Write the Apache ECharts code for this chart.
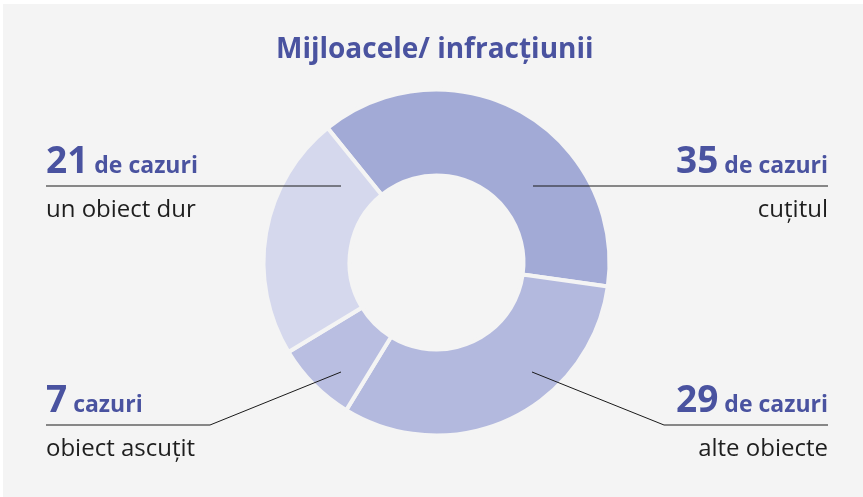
<!DOCTYPE html>
<html>
<head>
<meta charset="utf-8">
<script src="https://cdn.jsdelivr.net/npm/echarts@6/dist/echarts.min.js"></script>
<style>
  html, body { margin: 0; padding: 0; background: #fff; }
  #chart { width: 863px; height: 497px; }
</style>
</head>
<body>
<div id="chart"></div>
<script>
// date din grafic
const categorii = ['cuțitul', 'alte obiecte', 'obiect ascuțit', 'un obiect dur'];
const valori = [35, 29, 7, 21];
const unitati = ['de cazuri', 'de cazuri', 'cazuri', 'de cazuri'];
const culori = ['#a2aad6', '#b3b9de', '#b9bee1', '#d5d8ed'];

// pozitia liniilor de eticheta (start in felie, cot, capat)
const linii = [
  [[533, 186], [533, 186], [828, 186]],
  [[532, 372], [664, 425], [828, 425]],
  [[341, 372], [210, 425], [46, 425]],
  [[341, 186], [341, 186], [46, 186]]
];

const centru = [436.5, 262.5];
const raza = [87, 173];
const unghiStart = 129;

const chart = echarts.init(document.getElementById('chart'));

const dateFelii = categorii.map(function (c, i) {
  return { name: c, value: valori[i], itemStyle: { color: culori[i] } };
});
const dateEtichete = categorii.map(function (c, i) {
  return { name: c, value: valori[i] };
});

const option = {
  backgroundColor: '#ffffff',
  graphic: [{
    type: 'rect',
    z: -10,
    shape: { x: 3, y: 4, width: 860, height: 493 },
    style: { fill: '#f4f4f4' }
  }],
  title: {
    text: 'Mijloacele/ infracțiunii',
    left: 271,
    top: 31,
    textStyle: {
      fontFamily: 'Open Sans',
      fontWeight: 'bold',
      fontSize: 28,
      color: '#4a53a0'
    }
  },
  series: [{
    // inelul
    type: 'pie',
    z: 2,
    center: centru,
    radius: raza,
    startAngle: unghiStart,
    animation: false,
    silent: true,
    itemStyle: { borderColor: '#f4f4f4', borderWidth: 4 },
    label: { show: false },
    labelLine: { show: false },
    data: dateFelii
  }, {
    // etichetele si liniile, deasupra inelului
    type: 'pie',
    z: 5,
    center: centru,
    radius: raza,
    startAngle: unghiStart,
    animation: false,
    silent: true,
    avoidLabelOverlap: false,
    itemStyle: { color: 'rgba(0,0,0,0)', borderWidth: 0 },
    label: {
      show: true,
      position: 'outside',
      formatter: function (p) {
        return '{num|' + p.value + '}{unit|' + unitati[p.dataIndex] + '}\n{name|' + p.name + '}';
      },
      rich: {
        num: { fontFamily: 'Open Sans', fontWeight: 'bold', fontSize: 37, color: '#4a53a0', lineHeight: 48 },
        unit: { fontFamily: 'Open Sans', fontWeight: 'bold', fontSize: 23, color: '#4a53a0', lineHeight: 48, padding: [8, 0, 0, 6] },
        name: { fontFamily: 'Open Sans', fontSize: 24, color: '#1e1e1e', lineHeight: 48 }
      }
    },
    labelLine: { show: true, lineStyle: { color: '#1a1a1a', width: 1 } },
    labelLayout: function (params) {
      const pts = linii[params.dataIndex];
      const end = pts[2];
      const dreapta = end[0] > centru[0];
      return {
        x: end[0],
        y: end[1],
        align: dreapta ? 'right' : 'left',
        verticalAlign: 'middle',
        labelLinePoints: pts
      };
    },
    data: dateEtichete
  }]
};

chart.setOption(option);
</script>
</body>
</html>
